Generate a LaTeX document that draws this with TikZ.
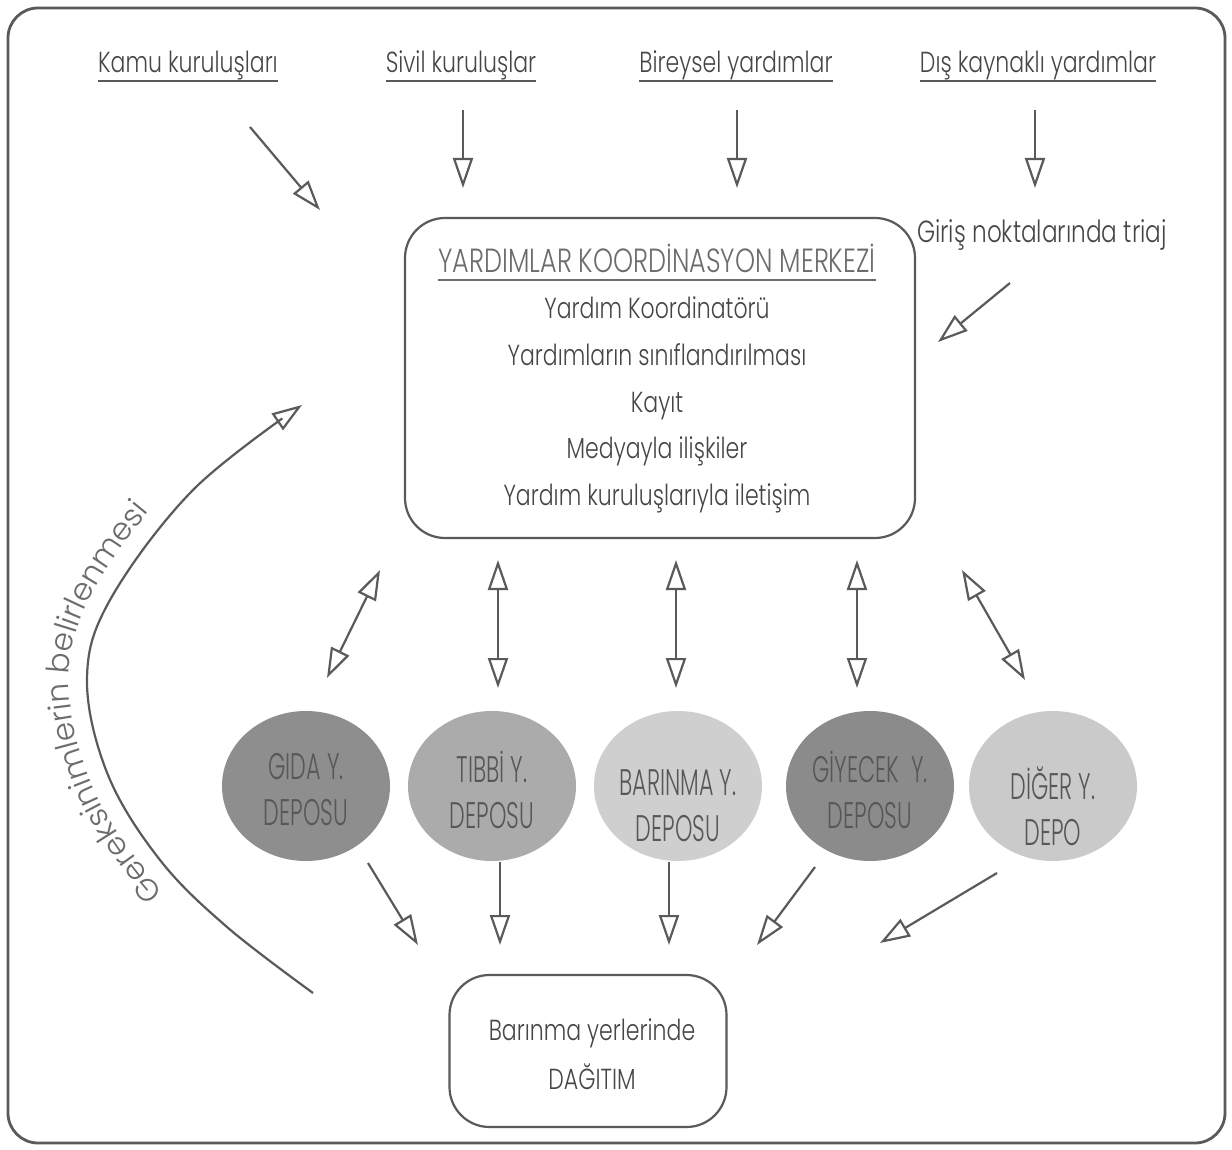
\documentclass[tikz,border=0pt]{standalone}
\usepackage{fontspec}
\setmainfont{Poppins}[UprightFont=* Light, FakeStretch=0.76]
\newfontfamily\condfont{Poppins}[UprightFont=* Light, FakeStretch=0.6]
\newfontfamily\curvefont{Poppins}[UprightFont=* Light]
\usetikzlibrary{arrows.meta,shapes.geometric,decorations.text}
\definecolor{lnc}{HTML}{5A5A5A}
\definecolor{txc}{HTML}{464646}
\definecolor{ttc}{HTML}{6C6C6C}
\definecolor{etx}{HTML}{575757}
\definecolor{ea}{HTML}{8E8E8E}
\definecolor{eb}{HTML}{ABABAB}
\definecolor{ec}{HTML}{CFCFCF}
\definecolor{ed}{HTML}{8B8B8B}
\definecolor{ee}{HTML}{CACACA}
\begin{document}
\begin{tikzpicture}[x=1pt,y=-1pt,
  ln/.style={draw=lnc, line width=2.2pt},
  tip/.tip={Triangle[open,length=30pt,width=20pt]},
  arr/.style={ln, -tip},
  darr/.style={ln, tip-tip},
  lbl/.style={inner sep=0pt, text=txc, font=\fontsize{29}{33}\selectfont},
  ttl/.style={inner sep=0pt, text=ttc, font=\fontsize{33.5}{36}\selectfont},
  boxst/.style={draw=lnc, line width=2.2pt, rounded corners=40pt, inner sep=0pt},
  dep/.style={ellipse, inner sep=0pt, minimum width=168pt, minimum height=150pt},
  deptx/.style={inner sep=0pt, text=etx, align=center, font=\condfont\fontsize{37}{46}\selectfont},
]
\useasboundingbox (0,0) rectangle (1232,1150);
\fill[white] (0,0) rectangle (1232,1150);
% outer frame
\draw[draw=lnc, line width=2.8pt, rounded corners=30pt] (8,8) rectangle (1225,1143);

% top labels
\node[lbl, anchor=base] (kamu) at (188,73) {Kamu kuruluşları};
\node[lbl, anchor=base] (sivil) at (461,73) {Sivil kuruluşlar};
\node[lbl, anchor=base] (birey) at (736,73) {Bireysel yardımlar};
\node[lbl, anchor=base] (dis) at (1038,73) {Dış kaynaklı yardımlar};
\foreach \n in {kamu,sivil,birey,dis}
  \draw[draw=lnc, line width=1.6pt] ([yshift=-8pt]\n.base west) -- ([yshift=-8pt]\n.base east);

\node[lbl, anchor=base, font=\fontsize{30.5}{34}\selectfont] (triaj) at (1042,243) {Giriş noktalarında triaj};

% central box
\node[boxst, minimum width=510pt, minimum height=320pt] (kc) at (660,378) {};
\node[ttl, anchor=base] (kct) at (657,273) {YARDIMLAR KOORDİNASYON MERKEZİ};
\draw[draw=ttc, line width=1.6pt] ([yshift=-7pt]kct.base west) -- ([yshift=-7pt]kct.base east);
\node[lbl, anchor=base] (l1) at (657,319) {Yardım Koordinatörü};
\node[lbl, anchor=base] (l2) at (657,366) {Yardımların sınıflandırılması};
\node[lbl, anchor=base] (l3) at (657,412) {Kayıt};
\node[lbl, anchor=base] (l4) at (657,458) {Medyayla ilişkiler};
\node[lbl, anchor=base] (l5) at (657,505) {Yardım kuruluşlarıyla iletişim};

% depots
\node[dep, fill=ea] (gida) at (306,786) {};
\node[dep, fill=eb] (tibbi) at (492,786) {};
\node[dep, fill=ec] (barin) at (678,786) {};
\node[dep, fill=ed] (giyec) at (870,786) {};
\node[dep, fill=ee] (diger) at (1053,786) {};
\node[deptx] (gidat) at (306,790) {GIDA Y.\\DEPOSU};
\node[deptx] (tibbit) at (492,790) {TIBBİ Y.\\DEPOSU};
\node[deptx] (barint) at (678,806) {BARINMA Y.\\DEPOSU};
\node[deptx] (giyect) at (870,790) {GİYECEK~ Y.\\DEPOSU};
\node[deptx] (digert) at (1053,806) {DİĞER Y.\\DEPO};

% distribution box
\node[boxst, minimum width=277pt, minimum height=152pt] (dag) at (588,1051) {};
\node[lbl, anchor=base] (dag1) at (592,1040) {Barınma yerlerinde};
\node[lbl, anchor=base] (dag2) at (592,1089) {DAĞITIM};

% arrow end points
\coordinate (k1) at (250,127); \coordinate (k2) at (320,210);
\coordinate (s1) at (463,110); \coordinate (s2) at (463,188);
\coordinate (b1) at (737,110); \coordinate (b2) at (737,188);
\coordinate (d1) at (1035,110); \coordinate (d2) at (1035,188);
\coordinate (t1) at (1010,283); \coordinate (t2) at (938,342);
\coordinate (u1a) at (380,570); \coordinate (u1b) at (327,678);
\coordinate (u2a) at (498,560); \coordinate (u2b) at (498,688);
\coordinate (u3a) at (676,560); \coordinate (u3b) at (676,688);
\coordinate (u4a) at (857,560); \coordinate (u4b) at (857,688);
\coordinate (u5a) at (962,570); \coordinate (u5b) at (1025,680);
\coordinate (w1a) at (368,863); \coordinate (w1b) at (418,945);
\coordinate (w2a) at (500,862); \coordinate (w2b) at (500,945);
\coordinate (w3a) at (669,862); \coordinate (w3b) at (669,945);
\coordinate (w4a) at (815,867); \coordinate (w4b) at (757,945);
\coordinate (w5a) at (997,873); \coordinate (w5b) at (880,943);

\draw[arr] (k1) -- (k2);
\draw[arr] (s1) -- (s2);
\draw[arr] (b1) -- (b2);
\draw[arr] (d1) -- (d2);
\draw[arr] (t1) -- (t2);
\draw[darr] (u1a) -- (u1b);
\draw[darr] (u2a) -- (u2b);
\draw[darr] (u3a) -- (u3b);
\draw[darr] (u4a) -- (u4b);
\draw[darr] (u5a) -- (u5b);
\draw[arr] (w1a) -- (w1b);
\draw[arr] (w2a) -- (w2b);
\draw[arr] (w3a) -- (w3b);
\draw[arr] (w4a) -- (w4b);
\draw[arr] (w5a) -- (w5b);

% feedback curve
\draw[arr] plot[smooth, tension=0.6] coordinates {(313,993) (227,927) (160,860) (108,775) (87,680) (110,600) (193,490) (302,405)};
% text along a path offset outward from the curve
\path[decorate, decoration={text along path, text align={left indent=180pt},
  text={|\curvefont\fontsize{31}{34}\selectfont\color{ttc}|Gereksinimlerin belirlenmesi}}]
  plot[smooth, tension=0.6] coordinates {(302,1007) (215,941) (146,871) (91,782) (69,680) (94,591) (180,477) (291,391)};
\end{tikzpicture}
\end{document}
